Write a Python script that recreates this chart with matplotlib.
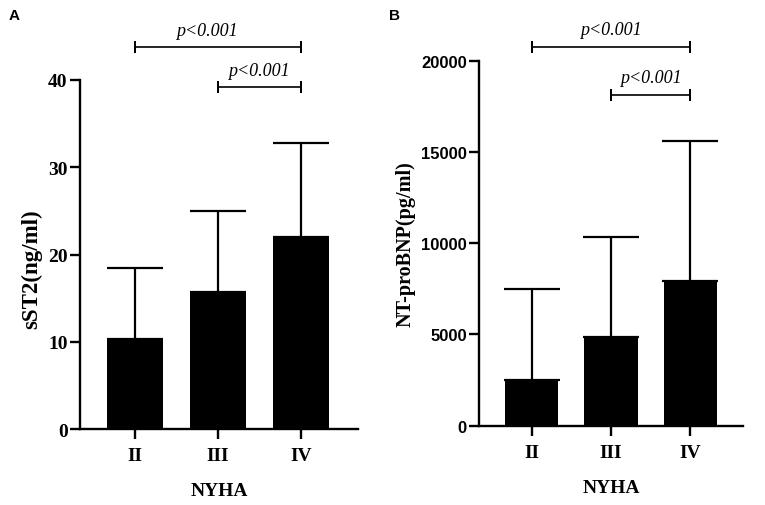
import matplotlib
matplotlib.use("Agg")
import matplotlib.pyplot as plt
import numpy as np

categories = ["II", "III", "IV"]
sst2_mean = [10.3, 15.7, 22.05]
sst2_sd = [8.1, 9.3, 10.7]
ntprobnp_mean = [2520, 4840, 7945]
ntprobnp_sd = [4970, 5515, 7635]
# brackets: (start idx, end idx, y value, label)
sst2_brackets = [(0, 2, 43.8, "p<0.001"), (1, 2, 39.25, "p<0.001")]
ntprobnp_brackets = [(0, 2, 20770, "p<0.001"), (1, 2, 18140, "p<0.001")]

SERIF = "Liberation Serif"
SANS = "Liberation Sans"

fig = plt.figure(figsize=(7.65, 5.06), dpi=100)

def panel(rect, means, sds, ylim, yticks, ylabel, brackets, ytick_family,
          ytick_size, text_off, xlim, ylabelpad, ylabel_size, text_x=None):
    ax = fig.add_axes(rect)
    x = np.arange(len(categories))
    ax.bar(x, means, width=0.67, color="black", zorder=2)
    ax.errorbar(x, means, yerr=[np.zeros(len(sds)), sds], fmt="none",
                ecolor="black", elinewidth=1.6, capsize=20, capthick=1.6,
                zorder=1)
    ax.set_xlim(*xlim)
    ax.set_ylim(*ylim)
    ax.set_yticks(yticks)
    ax.set_xticks(x)
    ax.set_xticklabels(categories, family=SERIF, fontweight="bold", fontsize=14)
    for lab in ax.get_yticklabels():
        lab.set_family(ytick_family)
        lab.set_fontweight("bold")
        lab.set_fontsize(ytick_size)
    for s in ["top", "right"]:
        ax.spines[s].set_visible(False)
    for s in ["left", "bottom"]:
        ax.spines[s].set_linewidth(1.7)
    ax.tick_params(axis="both", width=1.7, length=7, direction="out")
    ax.tick_params(axis="y", pad=2)
    ax.tick_params(axis="x", pad=6)
    ax.set_xlabel("NYHA", family=SERIF, fontweight="bold", fontsize=14,
                  labelpad=13)
    ax.set_ylabel(ylabel, family=SERIF, fontweight="bold", fontsize=ylabel_size,
                  labelpad=ylabelpad)
    for i, (a, b, y, lab) in enumerate(brackets):
        ax.plot([x[a], x[b]], [y, y], color="black", lw=1.2, clip_on=False)
        for xe in (x[a], x[b]):
            ax.plot([xe, xe], [y, y], marker="|", markersize=9,
                    markeredgewidth=1.4, color="black", clip_on=False)
        tx = (x[a] + x[b]) / 2 if text_x is None or text_x[i] is None else text_x[i]
        ax.text(tx, y + text_off, lab, family=SERIF, style="italic",
                fontsize=13, ha="center", va="bottom")
    return ax

axA = panel([0.1046, 0.150, 0.3634, 0.690], sst2_mean, sst2_sd, (0, 40),
            [0, 10, 20, 30, 40], "sST2(ng/ml)", sst2_brackets, SERIF, 14, 0.9,
            (-0.66, 2.69), 4, 16.5, text_x=[0.87, None])
axA.yaxis.set_label_coords(-0.137, 0.461)
axB = panel([0.6265, 0.157, 0.3444, 0.721], ntprobnp_mean, ntprobnp_sd,
            (0, 20000), [0, 5000, 10000, 15000, 20000], "NT-proBNP(pg/ml)",
            ntprobnp_brackets, SANS, 12, 450, (-0.66, 2.66), 4, 14.5)

fig.text(0.011, 0.968, "A", family=SANS, fontweight="bold", fontsize=11,
         ha="left", va="center")
fig.text(0.508, 0.968, "B", family=SANS, fontweight="bold", fontsize=11,
         ha="left", va="center")

fig.savefig("out.png", dpi=100, facecolor="white")
